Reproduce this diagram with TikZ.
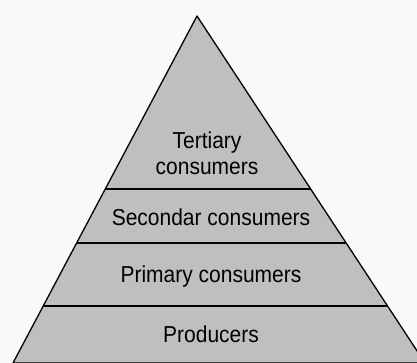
\documentclass[tikz,border=0pt]{standalone}
\usepackage{fontspec}
\setmainfont{Liberation Sans}
\usetikzlibrary{calc}
\begin{document}
\begin{tikzpicture}[x=1pt,y=-1pt,
    tierline/.style={line width=1.6pt},
    tiertext/.style={font=\fontsize{21}{24}\selectfont, align=center, inner sep=0pt, yscale=1.1}]

                    % Marco
                    \fill[gray!5] (0,0) rectangle (417,363);
                    \useasboundingbox (0,0) rectangle (417,363);
                    \clip (0,0) rectangle (417,363);

                    % Vertices
                    \coordinate (apex) at (197,16);
                    \coordinate (bl) at (13,363);
                    \coordinate (br) at (425,363);

                    % Triangulo
                    \filldraw[fill=gray!50, line width=1.3pt, line join=round] (bl)--(apex)--(br)--cycle;

                    % Lineas de nivel
                    \draw[tierline] ($(apex)!0.4986!(bl)$)--($(apex)!0.4986!(br)$);
                    \draw[tierline] ($(apex)!0.654!(bl)$)--($(apex)!0.654!(br)$);
                    \draw[tierline] ($(apex)!0.836!(bl)$)--($(apex)!0.836!(br)$);

                    % Textos
                    \node[tiertext] (tertiary) at (207,153) {Tertiary\\consumers};
                    \node[tiertext] (secondary) at (211,217) {Secondar consumers};
                    \node[tiertext] (primary) at (211,277) {Primary consumers};
                    \node[tiertext] (producers) at (211,334) {Producers};

\end{tikzpicture}
\end{document}
